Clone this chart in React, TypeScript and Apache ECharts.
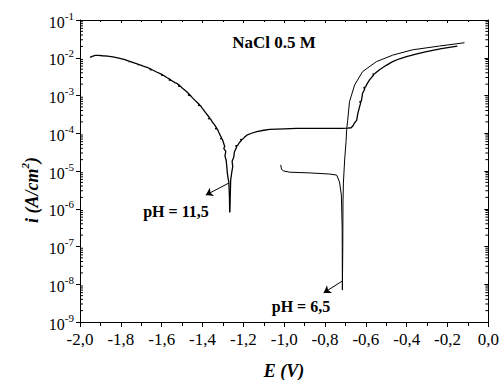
import React, { useEffect, useRef } from 'react';
import * as echarts from 'echarts';

const SERIF = 'Liberation Serif, Times New Roman, serif';

// Axis ranges / ticks
const X_MIN = -2.0;
const X_MAX = 0.0;
const X_STEP = 0.2;
const Y_MIN = 1e-9;
const Y_MAX = 1e-1;
const DECADES = [-9, -8, -7, -6, -5, -4, -3, -2];
const MINOR_MULTS = [2, 3, 4, 5, 6, 7, 8, 9];

// pH = 11,5 : cathodic branch (E in V, i in A/cm2)
const ph115Cathodic: number[][] = [
  [-1.951, 1.02e-2], [-1.94, 1.09e-2], [-1.925, 1.15e-2], [-1.91, 1.16e-2],
  [-1.89, 1.13e-2], [-1.865, 1.1e-2], [-1.839, 1.05e-2], [-1.81, 9.8e-3],
  [-1.785, 9.0e-3], [-1.756, 8.0e-3], [-1.764, 7.95e-3], [-1.753, 7.9e-3],
  [-1.735, 7.3e-3], [-1.71, 6.6e-3], [-1.718, 6.55e-3], [-1.706, 6.5e-3],
  [-1.69, 6.0e-3], [-1.672, 5.6e-3], [-1.65, 4.9e-3], [-1.659, 4.85e-3],
  [-1.647, 4.8e-3], [-1.625, 4.2e-3], [-1.594, 3.5e-3], [-1.603, 3.45e-3],
  [-1.59, 3.4e-3], [-1.575, 3.0e-3], [-1.555, 2.6e-3], [-1.565, 2.55e-3],
  [-1.552, 2.5e-3], [-1.535, 2.2e-3], [-1.526, 2.1e-3], [-1.51, 1.8e-3],
  [-1.52, 1.77e-3], [-1.507, 1.74e-3], [-1.495, 1.5e-3], [-1.48, 1.3e-3],
  [-1.462, 1.05e-3], [-1.471, 1.03e-3], [-1.459, 1.0e-3], [-1.45, 8.8e-4],
  [-1.432, 7.0e-4], [-1.413, 5.6e-4], [-1.422, 5.5e-4], [-1.41, 5.4e-4],
  [-1.4, 4.5e-4], [-1.385, 3.5e-4], [-1.375, 3.0e-4], [-1.364, 2.5e-4],
  [-1.373, 2.45e-4], [-1.361, 2.4e-4], [-1.352, 2.0e-4], [-1.34, 1.65e-4],
  [-1.33, 1.35e-4], [-1.338, 1.32e-4], [-1.327, 1.28e-4], [-1.32, 1.05e-4],
  [-1.313, 8.8e-5], [-1.306, 7.4e-5], [-1.313, 7.2e-5], [-1.303, 7.0e-5],
  [-1.298, 5.8e-5], [-1.291, 4.4e-5], [-1.296, 4.0e-5], [-1.286, 3.3e-5],
  [-1.29, 2.5e-5], [-1.284, 1.9e-5], [-1.281, 1.3e-5], [-1.279, 9.5e-6],
  [-1.276, 7.0e-6], [-1.271, 5.1e-6], [-1.268, 2.0e-6], [-1.267, 8.1e-7],
];

// pH = 11,5 : anodic branch
const ph115Anodic: number[][] = [
  [-1.267, 8.1e-7], [-1.265, 1.5e-6], [-1.262, 5.8e-6], [-1.257, 9.0e-6],
  [-1.252, 1.3e-5], [-1.255, 1.8e-5], [-1.247, 2.3e-5], [-1.244, 3.2e-5],
  [-1.232, 4.4e-5], [-1.238, 4.6e-5], [-1.228, 4.8e-5], [-1.22, 5.6e-5],
  [-1.208, 6.6e-5], [-1.215, 6.8e-5], [-1.203, 7.0e-5], [-1.195, 7.8e-5],
  [-1.183, 8.9e-5], [-1.16, 1.0e-4], [-1.134, 1.1e-4], [-1.1, 1.2e-4],
  [-1.071, 1.26e-4], [-1.0, 1.31e-4], [-0.939, 1.34e-4], [-0.85, 1.35e-4],
  [-0.777, 1.35e-4], [-0.72, 1.35e-4], [-0.689, 1.36e-4], [-0.672, 1.4e-4],
  [-0.662, 1.6e-4], [-0.655, 1.9e-4], [-0.645, 2.2e-4], [-0.64, 3.2e-4],
  [-0.631, 5.0e-4], [-0.625, 6.5e-4], [-0.631, 6.8e-4], [-0.622, 7.1e-4],
  [-0.616, 1.15e-3], [-0.605, 1.5e-3], [-0.611, 1.6e-3], [-0.601, 1.7e-3],
  [-0.595, 2.0e-3], [-0.582, 2.6e-3], [-0.56, 3.6e-3], [-0.567, 3.7e-3],
  [-0.556, 3.8e-3], [-0.533, 4.8e-3], [-0.5, 6.3e-3], [-0.469, 7.9e-3],
  [-0.435, 9.4e-3], [-0.401, 1.07e-2], [-0.35, 1.27e-2], [-0.303, 1.45e-2],
  [-0.23, 1.75e-2], [-0.152, 2.04e-2],
];

// pH = 6,5 : full smooth curve
const ph65: number[][] = [
  [-1.017, 1.45e-5], [-1.013, 1.1e-5], [-1.002, 1.0e-5], [-0.973, 9.3e-6],
  [-0.875, 8.9e-6], [-0.777, 8.3e-6], [-0.743, 7.8e-6], [-0.729, 5.1e-6],
  [-0.72, 2.3e-6], [-0.716, 3.0e-7], [-0.715, 7e-9], [-0.713, 1e-7],
  [-0.712, 1.5e-6], [-0.71, 4.8e-6], [-0.704, 1.95e-5], [-0.697, 6.0e-5],
  [-0.694, 1.25e-4], [-0.689, 2.2e-4], [-0.68, 6.9e-4], [-0.655, 1.9e-3],
  [-0.616, 4.3e-3], [-0.548, 7.9e-3], [-0.469, 1.17e-2], [-0.372, 1.62e-2],
  [-0.24, 2.04e-2], [-0.117, 2.5e-2],
];

// Annotation arrows (data coordinates): [from, to]
const arrow115 = [[-1.271, 4.8e-6], [-1.384, 2.3e-6]];
const arrow65 = [[-0.714, 1.23e-8], [-0.807, 5.9e-9]];

const minorTickValues: number[] = [];
DECADES.forEach((d) => MINOR_MULTS.forEach((m) => minorTickValues.push(m * Math.pow(10, d))));

const fmtX = (v: number) => (Math.abs(v) < 1e-9 ? '0,0' : v.toFixed(1).replace('.', ','));
const fmtY = (v: number) => `{b|10}{s|${Math.round(Math.log10(v))}}`;

export default function App() {
  const ref = useRef<HTMLDivElement>(null);
  useEffect(() => {
    if (!ref.current) return;
    const chart = echarts.init(ref.current, null, { renderer: 'svg' });
    const black = '#000';
    const lineSeries = (data: number[][], width: number) => ({
      type: 'line',
      data,
      showSymbol: false,
      symbol: 'none',
      smooth: false,
      lineStyle: { color: black, width },
      silent: true,
      z: 3,
    });
    const arrowMark = (a: number[][]) => ({
      silent: true,
      symbol: ['none', 'arrow'],
      symbolSize: 7,
      label: { show: false },
      lineStyle: { color: black, width: 1, type: 'solid' },
      emphasis: { disabled: true },
      data: [[{ coord: a[0] }, { coord: a[1] }]],
    });

    const option: any = {
      animation: false,
      backgroundColor: '#fff',
      textStyle: { fontFamily: SERIF },
      grid: { left: 80, right: 13, top: 20, bottom: 58, containLabel: false },
      xAxis: [
        {
          type: 'value', position: 'bottom', min: X_MIN, max: X_MAX, interval: X_STEP,
          axisLine: { show: true, onZero: false, lineStyle: { color: black, width: 1 } },
          axisTick: { show: true, inside: false, length: 5, lineStyle: { color: black } },
          minorTick: { show: true, splitNumber: 2, length: 4, lineStyle: { color: black } },
          splitLine: { show: false },
          axisLabel: { formatter: fmtX, color: black, fontFamily: SERIF, fontSize: 17, margin: 9 },
        },
        {
          type: 'value', position: 'top', min: X_MIN, max: X_MAX, interval: X_STEP,
          axisLine: { show: true, onZero: false, lineStyle: { color: black, width: 1 } },
          axisTick: { show: true, inside: true, length: 3, lineStyle: { color: black } },
          minorTick: { show: true, splitNumber: 2, length: 2, lineStyle: { color: black } },
          splitLine: { show: false },
          axisLabel: { show: false },
        },
      ],
      yAxis: [
        {
          type: 'log', logBase: 10, position: 'left', min: Y_MIN, max: Y_MAX, splitNumber: 8,
          axisLine: { show: true, onZero: false, lineStyle: { color: black, width: 1 } },
          axisTick: { show: true, inside: false, length: 4, lineStyle: { color: black } },
          splitLine: { show: false },
          axisLabel: {
            formatter: fmtY, color: black, margin: 6,
            rich: {
              b: { fontFamily: SERIF, fontSize: 16, color: black, verticalAlign: 'bottom', lineHeight: 20 },
              s: { fontFamily: SERIF, fontSize: 11, color: black, verticalAlign: 'top', lineHeight: 10 },
            },
          },
        },
        {
          type: 'log', logBase: 10, position: 'right', min: Y_MIN, max: Y_MAX, splitNumber: 8,
          axisLine: { show: true, onZero: false, lineStyle: { color: black, width: 1 } },
          axisTick: { show: true, inside: true, length: 4, lineStyle: { color: black } },
          splitLine: { show: false },
          axisLabel: { show: false },
        },
      ],
      series: [
        { ...lineSeries(ph115Cathodic, 1.3), markLine: arrowMark(arrow115) },
        lineSeries(ph115Anodic, 1.3),
        { ...lineSeries(ph65, 1), markLine: arrowMark(arrow65) },
        {
          type: 'custom',
          silent: true,
          clip: false,
          data: minorTickValues.map((v) => [X_MIN, v]),
          renderItem: (_p: any, api: any) => {
            const v = api.value(1);
            const l = api.coord([X_MIN, v]);
            const r = api.coord([X_MAX, v]);
            return {
              type: 'group',
              children: [
                { type: 'line', shape: { x1: l[0], y1: l[1], x2: l[0] + 3, y2: l[1] }, style: { stroke: black, lineWidth: 1 } },
                { type: 'line', shape: { x1: r[0], y1: r[1], x2: r[0] - 3, y2: r[1] }, style: { stroke: black, lineWidth: 1 } },
              ],
            };
          },
        },
      ],
      graphic: [
        {
          type: 'text', x: 274, y: 42,
          style: { text: 'NaCl 0.5 M', fontFamily: SERIF, fontSize: 17, fontWeight: 'bold', fill: black, align: 'center', verticalAlign: 'middle' },
        },
        {
          type: 'text', x: 176, y: 211,
          style: { text: 'pH = 11,5', fontFamily: SERIF, fontSize: 16, fontWeight: 'bold', fill: black, align: 'center', verticalAlign: 'middle' },
        },
        {
          type: 'text', x: 301, y: 306,
          style: { text: 'pH = 6,5', fontFamily: SERIF, fontSize: 16, fontWeight: 'bold', fill: black, align: 'center', verticalAlign: 'middle' },
        },
        {
          type: 'text', x: 284, y: 371,
          style: { text: 'E (V)', fontFamily: SERIF, fontSize: 18, fontWeight: 'bold', fontStyle: 'italic', fill: black, align: 'center', verticalAlign: 'middle' },
        },
        {
          type: 'text', x: 30, y: 190, rotation: Math.PI / 2,
          style: {
            text: '{a|i (A/cm}{s|2}{a|)}', align: 'center', verticalAlign: 'middle',
            rich: {
              a: { fontFamily: SERIF, fontSize: 18, fontWeight: 'bold', fontStyle: 'italic', fill: black, verticalAlign: 'bottom', lineHeight: 22 },
              s: { fontFamily: SERIF, fontSize: 11, fontWeight: 'bold', fontStyle: 'italic', fill: black, verticalAlign: 'top', lineHeight: 11 },
            },
          },
        },
      ],
    };
    chart.setOption(option);
    return () => chart.dispose();
  }, []);
  return <div ref={ref} style={{ width: 502, height: 380, position: 'absolute', left: 0, top: 0 }} />;
}
